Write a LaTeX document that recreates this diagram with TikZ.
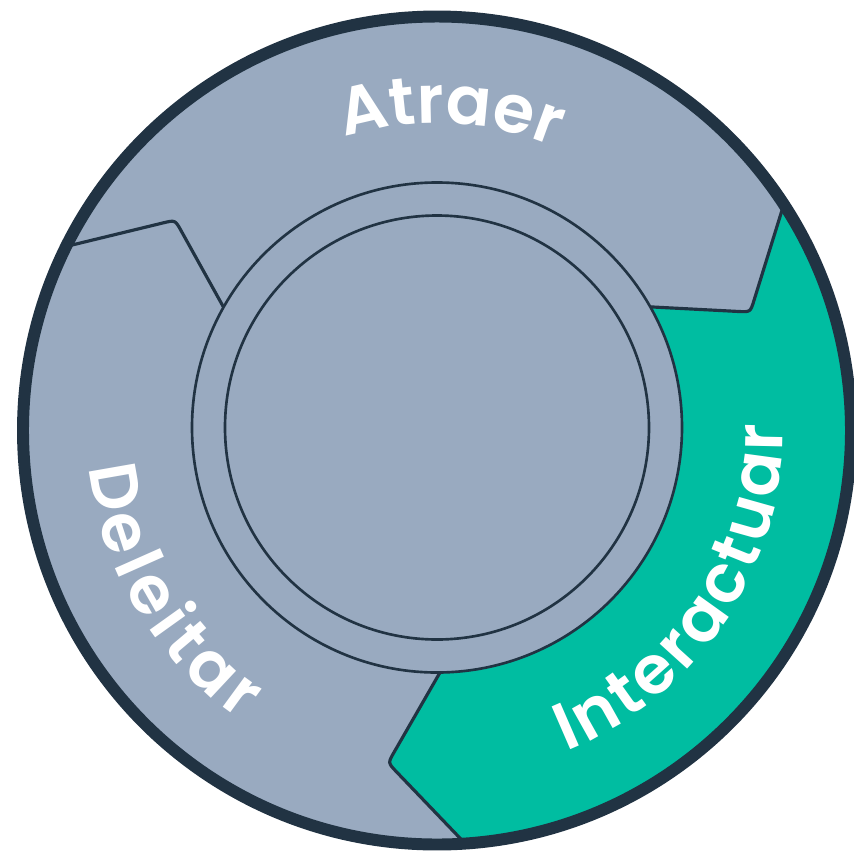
\documentclass[tikz,border=0pt]{standalone}
\usepackage{fontspec}
\setmainfont{Poppins}
\newfontfamily\wheelface{Poppins SemiBold}
\usetikzlibrary{calc,decorations.text}
\definecolor{wheelgray}{RGB}{153,170,192}
\definecolor{wheelteal}{RGB}{0,189,161}
\definecolor{wheelink}{RGB}{33,51,67}
\newcommand\wheelfont{\wheelface\fontsize{19}{19}\selectfont\color{white}}
\begin{document}
\begin{tikzpicture}[x=0.01cm,y=0.01cm,
  seam/.style={draw=wheelink,line width=0.9pt,line join=round},
  rim/.style={draw=wheelink,line width=3.4pt},
  hub/.style={draw=wheelink,line width=0.75pt},
  wheellabel/.style={decorate,decoration={text along path,text align=fit to path,text={|\wheelfont|#1}}}
]
\useasboundingbox (0,0) rectangle (854,853);
% centres of the rim and of the hub
\coordinate (Co) at (437,422.5);
\coordinate (Ci) at (437,425.5);
% seams between the three stages: rim point, arrow tip, hub point
\coordinate (O1) at ($(Co)+(33.1:414)$);
\coordinate (T1) at ($(Co)+(20.7:335)$);
\coordinate (I1) at ($(Ci)+(29.5:245)$);
\coordinate (O2) at ($(Co)+(-86.1:414)$);
\coordinate (T2) at ($(Co)+(-98.4:336)$);
\coordinate (I2) at ($(Ci)+(-89.3:245)$);
\coordinate (O3) at ($(Co)+(153.6:414)$);
\coordinate (T3) at ($(Co)+(141.2:336)$);
\coordinate (I3) at ($(Ci)+(150.6:245)$);
% wheel body
\fill[wheelgray] (Co) circle[radius=414];
% highlighted stage
\fill[wheelteal] (O1) arc[start angle=33.1,end angle=-86.1,radius=414]
  -- ($(T2)!3.5pt!(O2)$) .. controls (T2) .. ($(T2)!3.5pt!(I2)$) -- (I2)
  arc[start angle=-89.3,end angle=29.5,radius=245]
  -- ($(T1)!3.5pt!(I1)$) .. controls (T1) .. ($(T1)!3.5pt!(O1)$) -- cycle;
% seams
\draw[seam] (O1) -- ($(T1)!3.5pt!(O1)$) .. controls (T1) .. ($(T1)!3.5pt!(I1)$) -- (I1);
\draw[seam] (O2) -- ($(T2)!3.5pt!(O2)$) .. controls (T2) .. ($(T2)!3.5pt!(I2)$) -- (I2);
\draw[seam] (O3) -- ($(T3)!3.5pt!(O3)$) .. controls (T3) .. ($(T3)!3.5pt!(I3)$) -- (I3);
% hub rings
\draw[hub] (Ci) circle[radius=245];
\draw[hub] (Ci) circle[radius=212];
% rim
\draw[rim] (Co) circle[radius=414];
% stage names
\path[wheellabel={Atraer}] ($(Co)+(107.5:307)$) arc[start angle=107.5,end angle=67.5,radius=307];
\path[wheellabel={Deleitar}] ($(Co)+(186:350)$) arc[start angle=186,end angle=236,radius=350];
\path[wheellabel={Interactuar}] ($(Co)+(-68:346)$) arc[start angle=-68,end angle=1,radius=346];
\end{tikzpicture}
\end{document}
